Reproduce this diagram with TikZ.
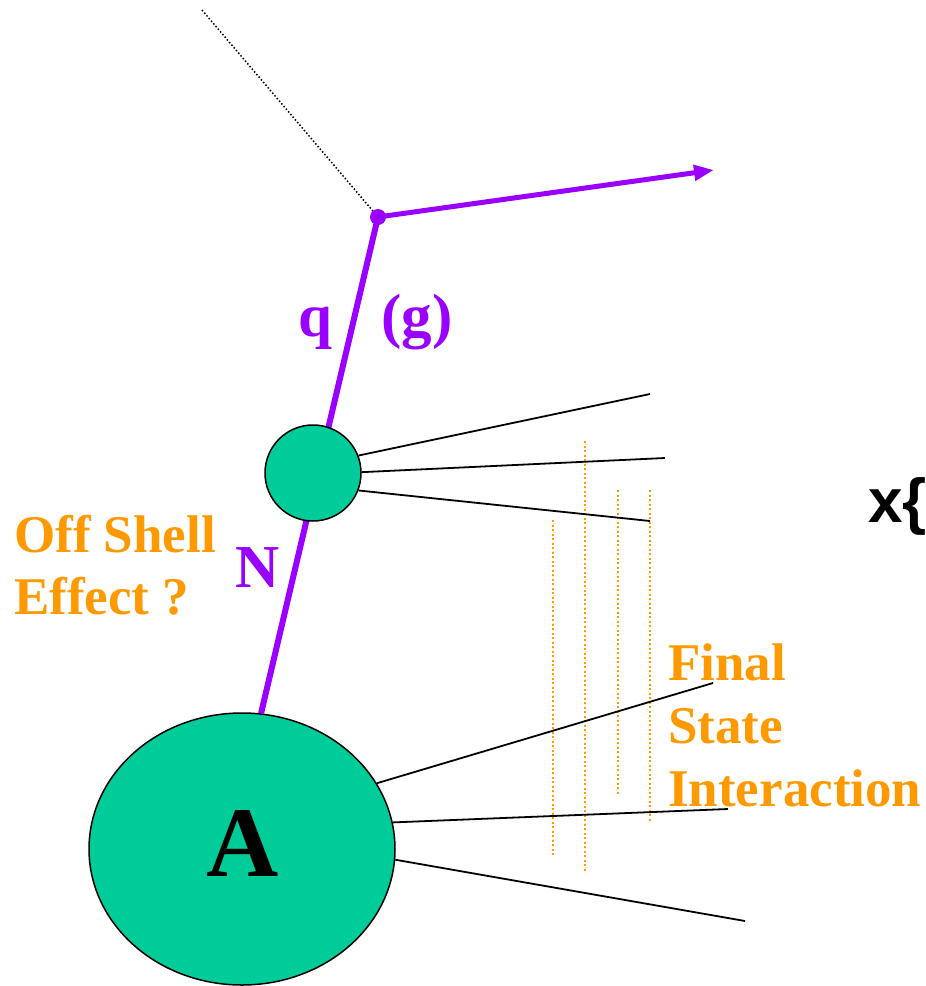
\documentclass[tikz,border=0pt]{standalone}
\usepackage{fontspec}
\setmainfont{Liberation Serif}
\newfontfamily\sansb{Liberation Sans}
\usetikzlibrary{shapes.geometric,arrows.meta}
\definecolor{vio}{RGB}{153,0,255}
\definecolor{grn}{RGB}{0,204,153}
\definecolor{org}{RGB}{255,153,0}
\begin{document}
\begin{tikzpicture}[x=1pt,y=-1pt,
 lbl/.style={anchor=base west, inner sep=0, font=\bfseries\fontsize{53}{60}\selectfont, text=org},
 plbl/.style={anchor=base west, inner sep=0, font=\bfseries\fontsize{61}{70}\selectfont, text=vio},
 blob/.style={draw=black, line width=1.5pt, fill=grn, inner sep=0},
 prong/.style={draw=black, line width=1.8pt},
 fsi/.style={draw=org, line width=2pt, dash pattern=on 2pt off 2.5pt},
 vline/.style={draw=vio, line width=6pt}]
\useasboundingbox (0,0) rectangle (926,986);
% nucleus
\node[blob, ellipse, minimum width=306pt, minimum height=272pt] (A) at (242,849) {};
\node[inner sep=0, font=\bfseries\fontsize{100}{110}\selectfont] (Alab) at (243,843) {A};
% vertex and beam
\coordinate (beam) at (202,10);
\coordinate (out) at (714,170);
\node[circle, inner sep=0, minimum size=1pt] (vc) at (378,217) {};
\draw[line width=1.5pt, dash pattern=on 1.5pt off 2pt] (beam) -- (vc.center);
\draw[vline] (vc.center) -- (A.82.3);
\draw[draw=vio, line width=5pt, -{Triangle[length=20pt,width=15pt]}] (vc.center) -- (out);
\node[circle, fill=vio, minimum size=16pt, inner sep=0] (v) at (378,217) {};
% nucleon
\node[blob, circle, minimum size=96pt] (N) at (313,473) {};
% FSI dotted lines
\coordinate (d1a) at (553,520); \coordinate (d1b) at (553,855);
\coordinate (d2a) at (585,441); \coordinate (d2b) at (585,873);
\coordinate (d3a) at (618,490); \coordinate (d3b) at (618,795);
\coordinate (d4a) at (650,490); \coordinate (d4b) at (650,823);
\draw[fsi] (d1a) -- (d1b);
\draw[fsi] (d2a) -- (d2b);
\draw[fsi] (d3a) -- (d3b);
\draw[fsi] (d4a) -- (d4b);
% prongs
\coordinate (n1) at (650,394);
\coordinate (n2) at (665,458);
\coordinate (n3) at (650,521);
\coordinate (a1) at (713,683);
\coordinate (a2) at (728,809);
\coordinate (a3) at (745,921);
\draw[prong] (N.21.8) -- (n1);
\draw[prong] (N.1) -- (n2);
\draw[prong] (N.-21.8) -- (n3);
\draw[prong] (A.26.7) -- (a1);
\draw[prong] (A.10.2) -- (a2);
\draw[prong] (A.-4.5) -- (a3);
% labels
\node[plbl] (q) at (298,336) {q};
\node[plbl] (g) at (381,336) {(g)};
\node[plbl] (Nl) at (235,587) {N};
\node[lbl] (os1) at (14,552) {Off Shell};
\node[lbl] (os2) at (14,614) {Effect ?};
\node[lbl] (f1) at (668,680) {Final};
\node[lbl] (f2) at (668,743) {State};
\node[lbl] (f3) at (668,806) {Interaction};
\node[anchor=base west, inner sep=0, font=\sansb\bfseries\fontsize{62}{70}\selectfont] (xf) at (868,522) {x\{};
\end{tikzpicture}
\end{document}
